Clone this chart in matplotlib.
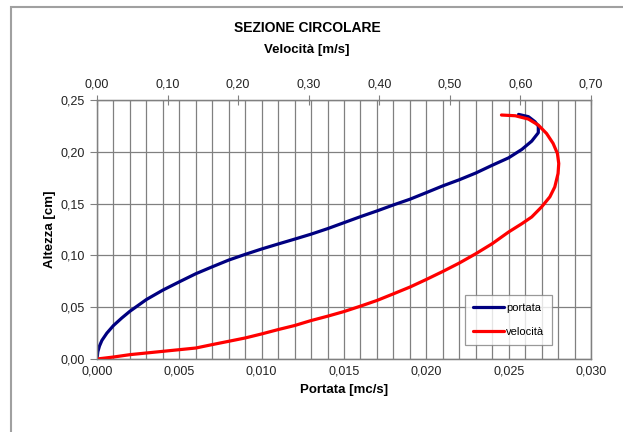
import matplotlib.pyplot as plt
import matplotlib.patches as mpatches
from matplotlib.ticker import MultipleLocator, FuncFormatter

plt.rcParams['font.family'] = ['Liberation Sans', 'DejaVu Sans']

# ── data ──
# portata (bottom axis, mc/s) vs altezza
portata_q = [0.0, 0.00005, 0.00015, 0.0003, 0.0006, 0.001, 0.0015, 0.002, 0.003,
             0.004, 0.005, 0.006, 0.007, 0.008, 0.009, 0.010, 0.011, 0.012, 0.013,
             0.014, 0.015, 0.016, 0.017, 0.018, 0.019, 0.020, 0.021, 0.022, 0.023,
             0.024, 0.025, 0.0258, 0.0264, 0.0268, 0.0268, 0.0266, 0.0262, 0.0256]
portata_h = [0.0, 0.0070, 0.0125, 0.0180, 0.0250, 0.0323, 0.0395, 0.0461, 0.0574,
             0.0665, 0.0745, 0.0823, 0.0890, 0.0955, 0.1010, 0.1062, 0.1110, 0.1157,
             0.1205, 0.1258, 0.1316, 0.1374, 0.1429, 0.1487, 0.1542, 0.1606, 0.1671,
             0.1730, 0.1795, 0.1870, 0.1942, 0.2023, 0.2103, 0.2184, 0.2248, 0.2290,
             0.2339, 0.2361]
# velocita (top axis, m/s) vs altezza
vel_v = [0.0, 0.0233, 0.0467, 0.070, 0.0933, 0.1167, 0.140, 0.1633, 0.1867, 0.210,
         0.2333, 0.2567, 0.280, 0.3033, 0.3267, 0.350, 0.3733, 0.3967, 0.420,
         0.4433, 0.4667, 0.490, 0.5133, 0.5367, 0.560, 0.5833, 0.602, 0.616,
         0.630, 0.6417, 0.6487, 0.6533, 0.6543, 0.6524, 0.6463, 0.637, 0.6253,
         0.6113, 0.5927, 0.5731]
vel_h = [0.0, 0.0019, 0.0042, 0.0058, 0.0074, 0.0090, 0.0106, 0.0139, 0.0171, 0.0203,
         0.0242, 0.0284, 0.0323, 0.0371, 0.0413, 0.0458, 0.0510, 0.0565, 0.0629,
         0.0694, 0.0768, 0.0845, 0.0926, 0.1016, 0.1113, 0.1226, 0.1306, 0.1371,
         0.1468, 0.1565, 0.1661, 0.1790, 0.1887, 0.1984, 0.2081, 0.2177, 0.2258,
         0.2316, 0.2348, 0.2355]

grid_c = '#808080'

fig = plt.figure(figsize=(6.23, 4.32), dpi=100)
fig.patch.set_facecolor('white')

# chart border (cut at right/bottom like the screenshot)
fig.add_artist(mpatches.Rectangle((11 / 623, -0.1), 1.2, 1 - 7 / 432 + 0.1,
                                  transform=fig.transFigure, fill=False,
                                  edgecolor='#A0A0A0', linewidth=1.5))

ax = fig.add_axes([97 / 623, 1 - 359 / 432, 494 / 623, 259 / 432])
ax.set_xlim(0, 0.030)
ax.set_ylim(0, 0.25)
ax.xaxis.set_major_locator(MultipleLocator(0.005))
ax.xaxis.set_minor_locator(MultipleLocator(0.001))
ax.yaxis.set_major_locator(MultipleLocator(0.05))
ax.xaxis.set_major_formatter(FuncFormatter(lambda v, p: f'{v:.3f}'.replace('.', ',')))
ax.yaxis.set_major_formatter(FuncFormatter(lambda v, p: f'{v:.2f}'.replace('.', ',')))
ax.grid(True, which='both', axis='x', color=grid_c, linewidth=0.9)
ax.grid(True, which='major', axis='y', color=grid_c, linewidth=0.9)
ax.tick_params(axis='x', which='both', length=0, labelsize=9, pad=5, colors='#222222')
ax.tick_params(axis='y', length=5, direction='out', labelsize=9, pad=4,
               colors='#222222')
ax.tick_params(axis='y', color=grid_c)
for s in ax.spines.values():
    s.set_color(grid_c)
    s.set_linewidth(1.0)
ax.set_axisbelow(True)

lp, = ax.plot(portata_q, portata_h, color='#000080', linewidth=2.3, label='portata',
              solid_joinstyle='round', solid_capstyle='round')
ax.set_xlabel('Portata [mc/s]', fontsize=9.5, fontweight='bold', labelpad=4)
ax.set_ylabel('Altezza [cm]', fontsize=9.5, fontweight='bold', labelpad=3)

ax2 = ax.twiny()
ax2.set_xlim(0, 0.70)
ax2.xaxis.set_major_locator(MultipleLocator(0.10))
ax2.xaxis.set_major_formatter(FuncFormatter(lambda v, p: f'{v:.2f}'.replace('.', ',')))
ax2.tick_params(axis='x', direction='inout', length=7, labelsize=9, pad=3,
                colors='#222222')
ax2.tick_params(axis='x', color=grid_c)
for s in ax2.spines.values():
    s.set_color(grid_c)
lv, = ax2.plot(vel_v, vel_h, color='#FF0000', linewidth=2.3, label='velocità',
               solid_joinstyle='round', solid_capstyle='round')

leg = ax2.legend(handles=[lp, lv], loc='lower left', bbox_to_anchor=(0.745, 0.054),
                 fontsize=8, frameon=True, fancybox=False, edgecolor=grid_c,
                 handlelength=2.8, handletextpad=0.2, borderpad=0.7, labelspacing=1.3,
                 borderaxespad=0)
leg.get_frame().set_linewidth(0.9)

fig.text(307 / 623, 1 - 28 / 432, 'SEZIONE CIRCOLARE', ha='center', va='center',
         fontsize=10, fontweight='bold')
fig.text(307 / 623, 1 - 50 / 432, 'Velocità [m/s]', ha='center', va='center',
         fontsize=9.5, fontweight='bold')

plt.savefig('out.png', dpi=100, facecolor='white')
